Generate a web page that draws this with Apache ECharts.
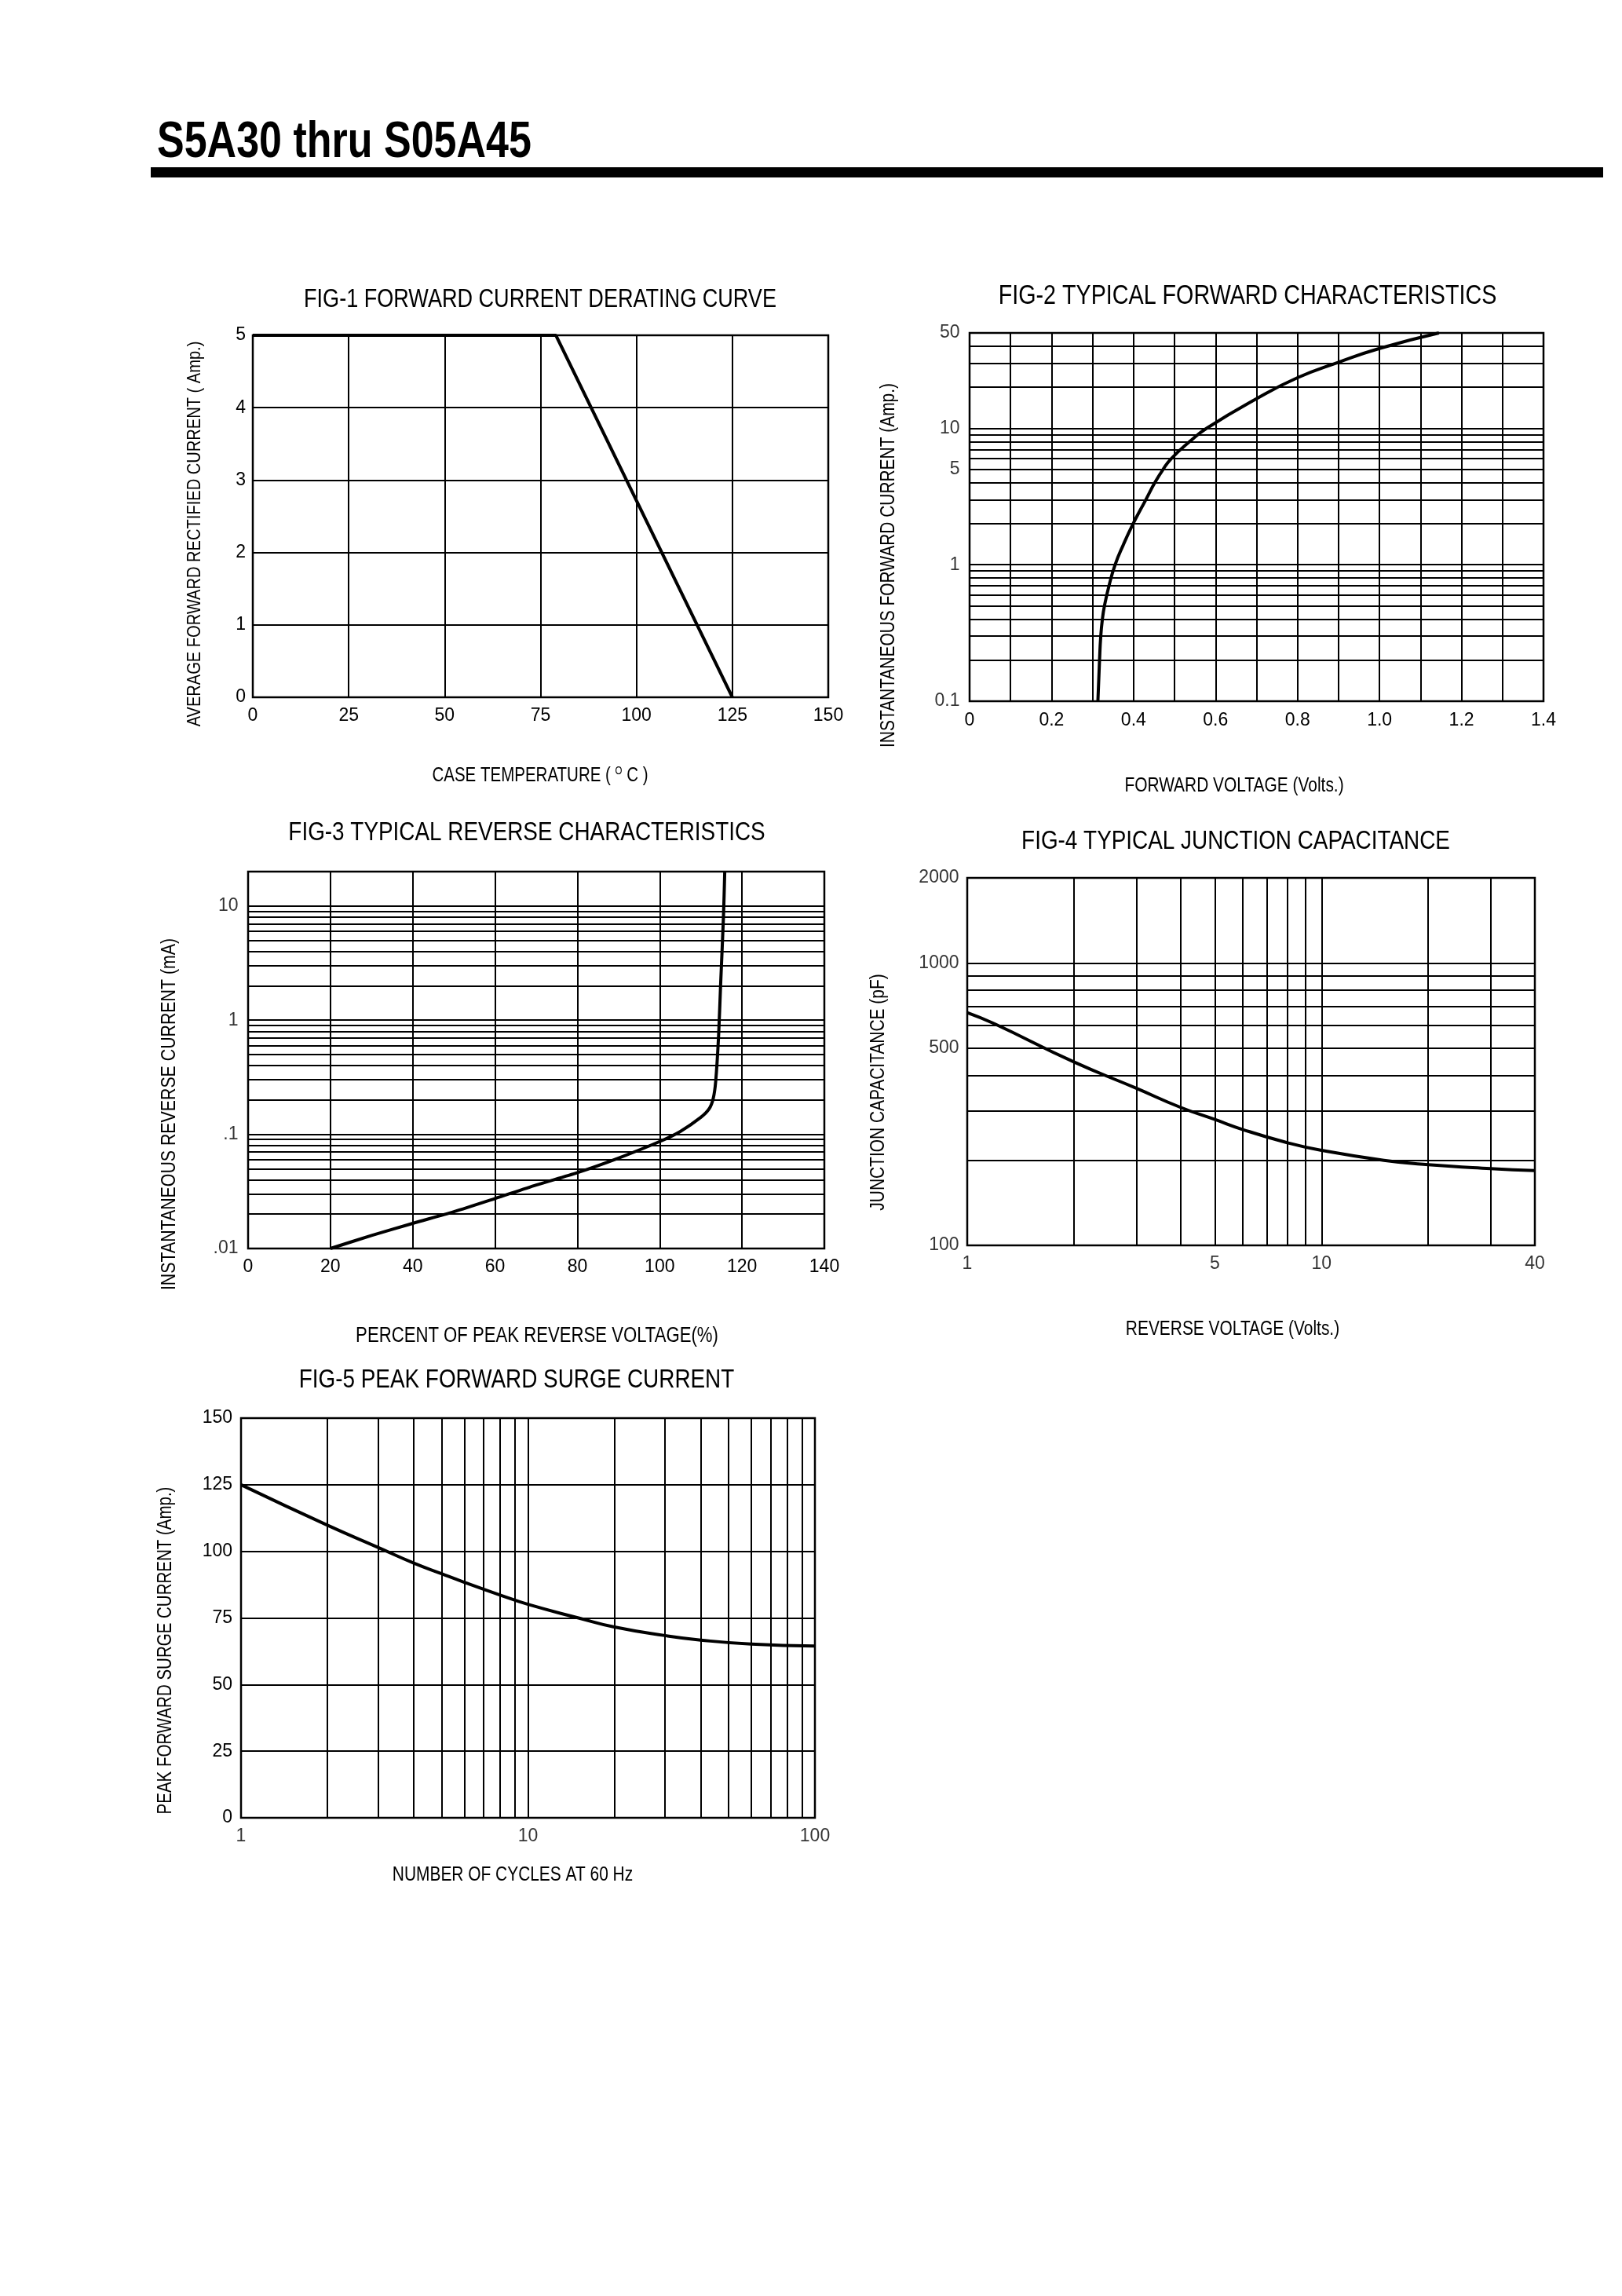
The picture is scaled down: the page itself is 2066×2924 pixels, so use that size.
<!DOCTYPE html>
<html>
<head>
<meta charset="utf-8">
<script src="https://cdn.jsdelivr.net/npm/echarts@6/dist/echarts.min.js"></script>
<style>
html,body{margin:0;padding:0;background:#fff;}
#c{width:2066px;height:2924px;}
</style>
</head>
<body>
<div id="c"></div>
<script>
// ---------- texts ----------
const pageTitle = 'S5A30 thru S05A45';
const fig1Title = 'FIG-1 FORWARD CURRENT DERATING CURVE';
const fig2Title = 'FIG-2 TYPICAL FORWARD CHARACTERISTICS';
const fig3Title = 'FIG-3 TYPICAL REVERSE CHARACTERISTICS';
const fig4Title = 'FIG-4 TYPICAL JUNCTION CAPACITANCE';
const fig5Title = 'FIG-5 PEAK FORWARD SURGE CURRENT';

// ---------- FIG-1 data ----------
const fig1Temp    = [0, 79, 125];
const fig1Current = [5, 5, 0];

// ---------- FIG-2 data ----------
const fig2Voltage = [0.313, 0.317, 0.320, 0.324, 0.329, 0.340, 0.355, 0.375, 0.399, 0.430, 0.452, 0.472, 0.492, 0.537, 0.578, 0.700, 0.800, 0.900, 1.000, 1.145];
const fig2Current = [0.1,   0.2,   0.3,   0.4,   0.5,   0.7,   1.0,   1.4,   2.0,   3.0,   4.0,   5.0,   6.0,   8.0,   10,    16.5,  23.5,  30.5,  38.5,  50];
const fig2YGrid = [0.2,0.3,0.4,0.5,0.6,0.7,0.8,0.9,1,2,3,4,5,6,7,8,9,10,20,30,40];
const fig2YTickValues = [0.1, 1, 5, 10, 50];
const fig2YTickText   = ['0.1', '1', '5', '10', '50'];

// ---------- FIG-3 data ----------
const fig3Percent = [20,   30,    40,     50,    60,     70,    80,     90,    100,    105,   110,   112,   113,   113.6, 114.3, 114.8, 115.5, 115.8];
const fig3Current = [0.01, 0.013, 0.0166, 0.021, 0.0274, 0.036, 0.0462, 0.062, 0.0865, 0.106, 0.141, 0.167, 0.206, 0.29,  0.72,  2.05,  8.2,   20];
const fig3YGrid = [0.02,0.03,0.04,0.05,0.06,0.07,0.08,0.09,0.1,0.2,0.3,0.4,0.5,0.6,0.7,0.8,0.9,1,2,3,4,5,6,7,8,9,10];
const fig3YTickValues = [0.01, 0.1, 1, 10];
const fig3YTickText   = ['.01', '.1', '1', '10'];

// ---------- FIG-4 data ----------
const fig4Voltage     = [1,   1.19, 2,   3,   4,   5,   6,   8,   10,  15,  20,  30,  40];
const fig4Capacitance = [667, 610,  446, 360, 308, 279, 257, 231, 217, 200, 193, 187, 184];
const fig4XGrid = [2,3,4,5,6,7,8,9,10,20,30];
const fig4YGrid = [200,300,400,500,600,700,800,900,1000];
const fig4XTickValues = [1, 5, 10, 40];
const fig4XTickText   = ['1', '5', '10', '40'];
const fig4YTickValues = [100, 500, 1000, 2000];
const fig4YTickText   = ['100', '500', '1000', '2000'];

// ---------- FIG-5 data ----------
const fig5Cycles  = [1,   2,     3,     4,    5,    6,    8,    10,   15,   20,   30,   40,   60,   100];
const fig5Current = [125, 109.8, 101.5, 95.6, 91.6, 88.4, 83.6, 80.1, 75.0, 71.6, 68.4, 66.7, 65.2, 64.5];
const fig5XGrid = [2,3,4,5,6,7,8,9,10,20,30,40,50,60,70,80,90];
const fig5XTickValues = [1, 10, 100];
const fig5XTickText   = ['1', '10', '100'];

// ---------- styling ----------
const FONT = '"Liberation Sans", Arial, Helvetica, sans-serif';
const NARROW = 0.82;
const BLACK = '#000';
const GRID_W = 2;
const CURVE_W = 4;

const zip = (a, b) => a.map((v, i) => [v, b[i]]);

const chart = echarts.init(document.getElementById('c'), null, {renderer: 'canvas'});

const grids = [
  {left: 322,  top: 427,  width: 733, height: 461},
  {left: 1235, top: 424,  width: 731, height: 469},
  {left: 316,  top: 1110, width: 734, height: 480},
  {left: 1232, top: 1118, width: 723, height: 468},
  {left: 307,  top: 1806, width: 731, height: 509}
].map(g => Object.assign({show: true, borderColor: BLACK, borderWidth: 2.5, backgroundColor: 'transparent', containLabel: false}, g));

const labelStyle = {color: BLACK, fontSize: 23, fontFamily: FONT};
function linAxis(idx, min, max, interval, extra) {
  return Object.assign({
    type: 'value', gridIndex: idx, min: min, max: max, interval: interval,
    axisLine: {show: false}, axisTick: {show: false},
    axisLabel: Object.assign({margin: 12}, labelStyle),
    splitLine: {show: true, lineStyle: {color: BLACK, width: GRID_W}}
  }, extra || {});
}
function logAxis(idx, min, max) {
  return {
    type: 'log', logBase: 10, gridIndex: idx, min: min, max: max,
    axisLine: {show: false}, axisTick: {show: false},
    axisLabel: {show: false}, splitLine: {show: false}, minorSplitLine: {show: false}
  };
}

const xAxes = [
  linAxis(0, 0, 150, 25),
  linAxis(1, 0, 1.4, 0.1, {axisLabel: Object.assign({margin: 13, formatter: v => {
    const k = Math.round(v * 10);
    if (k % 2) return '';
    return k === 0 ? '0' : (k / 10).toFixed(1);
  }}, labelStyle)}),
  linAxis(2, 0, 140, 20),
  logAxis(3, 1, 40),
  logAxis(4, 1, 100)
];
const yAxes = [
  linAxis(0, 0, 5, 1, {axisLabel: Object.assign({margin: 9}, labelStyle)}),
  logAxis(1, 0.1, 50),
  logAxis(2, 0.01, 20),
  logAxis(3, 100, 2000),
  linAxis(4, 0, 150, 25, {axisLabel: Object.assign({margin: 11}, labelStyle)})
];

function curve(idx, data, smooth, markLineDims) {
  const s = {
    type: 'line', xAxisIndex: idx, yAxisIndex: idx, data: data,
    showSymbol: false, symbol: 'none', smooth: smooth,
    lineStyle: {color: BLACK, width: CURVE_W}, z: 3, animation: false, silent: true
  };
  if (markLineDims) {
    const data2 = [];
    markLineDims.forEach(([dim, vals]) => vals.forEach(v => data2.push(dim === 'y' ? {yAxis: v} : {xAxis: v})));
    s.markLine = {symbol: 'none', silent: true, animation: false, label: {show: false},
      lineStyle: {color: BLACK, width: GRID_W, type: 'solid'}, data: data2};
  }
  return s;
}
function tickLabels(idx, dim, values, texts, anchor, distance) {
  return {
    type: 'scatter', xAxisIndex: idx, yAxisIndex: idx, silent: true, animation: false, clip: false,
    symbolSize: 1, itemStyle: {color: 'rgba(0,0,0,0)'},
    data: values.map((v, i) => ({name: texts[i], value: dim === 'y' ? [anchor, v] : [v, anchor]})),
    label: Object.assign({show: true, position: dim === 'y' ? 'left' : 'bottom', distance: distance, formatter: '{b}'}, labelStyle)
  };
}

const series = [
  curve(0, zip(fig1Temp, fig1Current), false, null),
  curve(1, zip(fig2Voltage, fig2Current), 0.5, [['y', fig2YGrid]]),
  tickLabels(1, 'y', fig2YTickValues, fig2YTickText, 0, 12),
  curve(2, zip(fig3Percent, fig3Current), 0.25, [['y', fig3YGrid]]),
  tickLabels(2, 'y', fig3YTickValues, fig3YTickText, 0, 12),
  curve(3, zip(fig4Voltage, fig4Capacitance), 0.5, [['x', fig4XGrid], ['y', fig4YGrid]]),
  tickLabels(3, 'y', fig4YTickValues, fig4YTickText, 1, 10),
  tickLabels(3, 'x', fig4XTickValues, fig4XTickText, 100, 12),
  curve(4, zip(fig5Cycles, fig5Current), 0.5, [['x', fig5XGrid]]),
  tickLabels(4, 'x', fig5XTickValues, fig5XTickText, 0, 12)
];

function txt(x, y, text, size, opts) {
  opts = opts || {};
  return {
    type: 'text', x: x, y: y, rotation: opts.rotate ? Math.PI / 2 : 0,
    scaleX: opts.sx || NARROW, silent: true,
    style: {
      text: text, fill: BLACK,
      font: (opts.bold ? 'bold ' : '') + size + 'px ' + FONT,
      textAlign: opts.align || 'center', textVerticalAlign: 'middle',
      rich: opts.rich
    }
  };
}

const graphics = [
  txt(200, 182, pageTitle, 65, {bold: true, align: 'left', sx: 0.80}),
  {type: 'rect', silent: true, shape: {x: 192, y: 213, width: 1850, height: 13}, style: {fill: BLACK}},
  txt(688, 382, fig1Title, 33),
  txt(1589, 377, fig2Title, 35),
  txt(671, 1061, fig3Title, 34),
  txt(1574, 1072, fig4Title, 34),
  txt(658, 1758, fig5Title, 34),
  txt(688, 988, 'CASE TEMPERATURE ( {s|O} C )', 25, {rich: {s: {fontSize: 14, fontFamily: FONT, verticalAlign: 'top', fill: BLACK}}}),
  txt(248, 680, 'AVERAGE FORWARD RECTIFIED CURRENT ( Amp.)', 24.5, {rotate: true}),
  txt(1572, 1001, 'FORWARD VOLTAGE (Volts.)', 25.5),
  txt(1132, 720, 'INSTANTANEOUS FORWARD CURRENT (Amp.)', 25.5, {rotate: true}),
  txt(684, 1702, 'PERCENT OF PEAK REVERSE VOLTAGE(%)', 27),
  txt(216, 1419, 'INSTANTANEOUS REVERSE CURRENT (mA)', 26, {rotate: true}),
  txt(1570, 1693, 'REVERSE VOLTAGE (Volts.)', 25.5),
  txt(1119, 1391, 'JUNCTION CAPACITANCE (pF)', 25.5, {rotate: true}),
  txt(653, 2388, 'NUMBER OF CYCLES AT 60 Hz', 25.5),
  txt(211, 2102, 'PEAK FORWARD SURGE CURRENT (Amp.)', 25, {rotate: true})
];

chart.setOption({
  backgroundColor: '#fff',
  animation: false,
  grid: grids,
  xAxis: xAxes,
  yAxis: yAxes,
  series: series,
  graphic: {elements: graphics}
});
</script>
</body>
</html>
